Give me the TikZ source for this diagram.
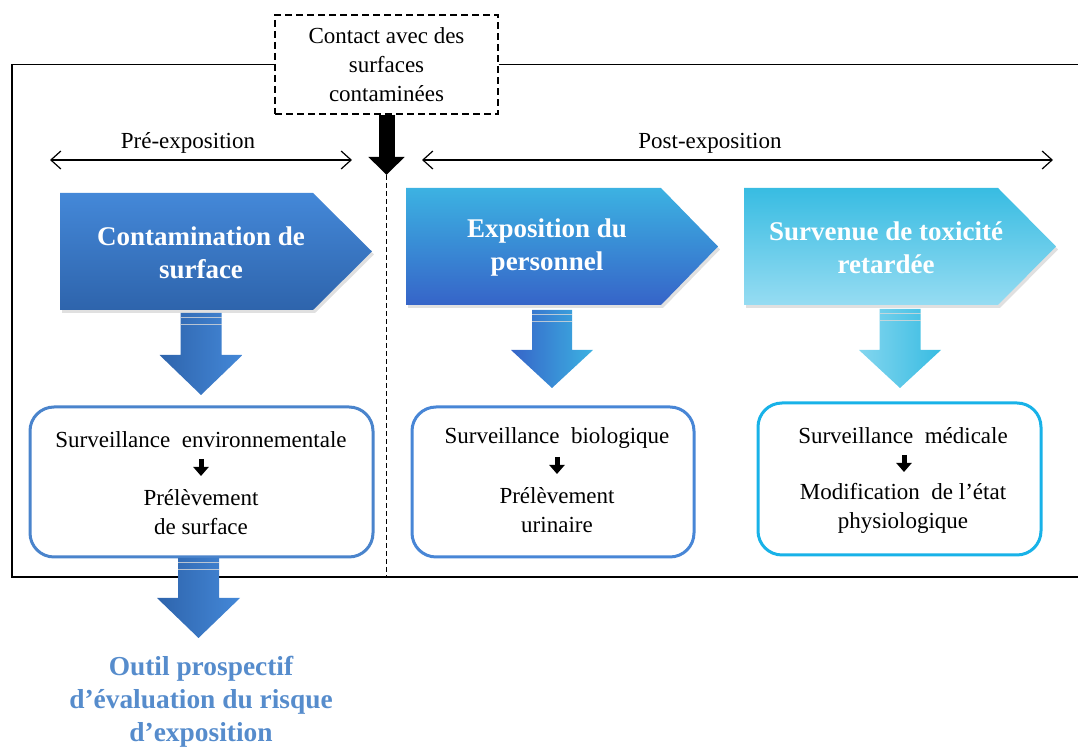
\documentclass[tikz,border=0pt]{standalone}
\usepackage{fontspec}
\setmainfont{Liberation Serif}
\usetikzlibrary{arrows.meta}

\definecolor{chevAtop}{RGB}{68,136,216}
\definecolor{chevAbot}{RGB}{46,100,172}
\definecolor{chevBtop}{RGB}{60,178,226}
\definecolor{chevBmid}{RGB}{70,152,226}
\definecolor{chevBbot}{RGB}{54,100,200}
\definecolor{chevCtop}{RGB}{56,188,226}
\definecolor{chevCbot}{RGB}{150,220,242}
\definecolor{boxA}{RGB}{74,132,204}
\definecolor{boxB}{RGB}{72,134,214}
\definecolor{boxC}{RGB}{24,178,232}
\definecolor{outil}{RGB}{86,140,204}

\tikzset{
  txt/.style={font=\fontsize{11.5}{14.5}\selectfont, align=center, inner sep=0pt},
  chevtxt/.style={text=white, font=\bfseries\fontsize{13.5}{16.5}\selectfont, align=center, inner sep=0pt},
  chevshadow/.style={fill=black, opacity=0.12},
  survbox/.style={draw, line width=1.5pt, rounded corners=12pt, fill=white},
  smallarrow/.style={line width=2.5pt, -{Triangle[width=7.5pt,length=4.5pt]}},
  period/.style={line width=0.6pt, {Straight Barb[length=5pt,width=9pt]}-{Straight Barb[length=5pt,width=9pt]}},
  stripe/.style={white!70!gray, opacity=0.8, line width=0.5pt}
}

\begin{document}
\begin{tikzpicture}[x=0.5pt,y=-0.5pt]
 \useasboundingbox (0,0) rectangle (1078,747);

 % contact box and frame
 \node[draw, dash pattern=on 3.5pt off 2pt, line width=0.6pt, minimum width=111.5pt, minimum height=49.5pt, txt] (contact) at (386.5,64.5) {Contact avec des\\surfaces\\contaminées};
 \draw[line width=0.6pt] (contact.west) -- (12,64.5) -- (12,577) -- (1078,577);
 \draw[line width=0.6pt] (contact.east) -- (1078,64.5);

 % big black arrow and time split
 \coordinate (tip) at (386.5,175);
 \coordinate (split) at (386.5,577);
 \draw[line width=8pt, -{Triangle[width=17.5pt,length=9pt]}] (contact.south) -- (tip);
 \draw[dash pattern=on 2.5pt off 1.5pt, line width=0.6pt] (tip) -- (split);

 % periods
 \coordinate (preL) at (50,160);
 \coordinate (preR) at (352,160);
 \coordinate (postL) at (422,160);
 \coordinate (postR) at (1053,160);
 \draw[period] (preL) -- (preR);
 \draw[period] (postL) -- (postR);
 \node[txt] (pre) at (188,143) {Pré-exposition};
 \node[txt] (post) at (710,143) {Post-exposition};

 % chevrons
 \fill[chevshadow] (62,196) -- (315,196) -- (374,254.5) -- (315,313) -- (62,313) -- cycle;
 \fill[chevshadow] (408,191) -- (663,191) -- (720,249.5) -- (663,308) -- (408,308) -- cycle;
 \fill[chevshadow] (746,191) -- (1000,191) -- (1058,249.5) -- (1000,308) -- (746,308) -- cycle;
 \shade[top color=chevAtop, bottom color=chevAbot] (60,193) -- (313,193) -- (372,251.5) -- (313,310) -- (60,310) -- cycle;
 \shade[top color=chevBtop, middle color=chevBmid, bottom color=chevBbot] (406,188) -- (661,188) -- (718,246.5) -- (661,305) -- (406,305) -- cycle;
 \shade[top color=chevCtop, bottom color=chevCbot] (744,188) -- (998,188) -- (1056,246.5) -- (998,305) -- (744,305) -- cycle;
 \node[chevtxt] (contam) at (201,253) {Contamination de\\surface};
 \node[chevtxt] (expo) at (547,247.5) {Exposition du\\personnel};
 \node[chevtxt] (toxi) at (886,247.5) {Survenue de toxicité\\retardée};

 % block arrows
 \shade[left color=chevAbot, right color=chevAtop] (180.5,313) -- (221.5,313) -- (221.5,355) -- (242.5,355) -- (201,395) -- (159.5,355) -- (180.5,355) -- cycle;
 \shade[left color=chevBbot, right color=chevBtop] (532,310) -- (572,310) -- (572,350) -- (593,350) -- (552,388) -- (511,350) -- (532,350) -- cycle;
 \shade[left color=chevCbot!80!chevCtop, right color=chevCtop] (879.5,309) -- (920.5,309) -- (920.5,350) -- (941,350) -- (900,388) -- (859,350) -- (879.5,350) -- cycle;
 \draw[stripe] (180.5,318) -- (221.5,318);
 \draw[stripe] (180.5,325) -- (221.5,325);
 \draw[stripe] (532,315) -- (572,315);
 \draw[stripe] (532,322) -- (572,322);
 \draw[stripe] (879.5,314) -- (920.5,314);
 \draw[stripe] (879.5,321) -- (920.5,321);

 % surveillance boxes
 \node[survbox, draw=boxA, minimum width=171.5pt, minimum height=75pt] (boxenv) at (201.5,482) {};
 \node[survbox, draw=boxB, minimum width=141pt, minimum height=75pt] (boxbio) at (553,482) {};
 \node[survbox, draw=boxC, minimum width=141.5pt, minimum height=76pt] (boxmed) at (899.5,479) {};

 \node[txt] (env) at (201,440) {Surveillance\ \ environnementale};
 \node[txt] (prelsurf) at (201,512.5) {Prélèvement\\de surface};
 \node[txt] (bio) at (557,438) {Surveillance\ \ biologique};
 \node[txt] (prelur) at (557,510) {Prélèvement\\urinaire};
 \node[txt] (med) at (903,436) {Surveillance\ \ médicale};
 \node[txt] (modif) at (903,508) {Modification\ \ de l’état\\physiologique};

 \coordinate (a1s) at (201,459);
 \coordinate (a1e) at (201,476);
 \coordinate (a2s) at (557,457);
 \coordinate (a2e) at (557,474);
 \coordinate (a3s) at (904,455);
 \coordinate (a3e) at (904,472);
 \draw[smallarrow] (a1s) -- (a1e);
 \draw[smallarrow] (a2s) -- (a2e);
 \draw[smallarrow] (a3s) -- (a3e);

 % outcome
 \shade[left color=chevAbot, right color=chevAtop] (178,558) -- (219,558) -- (219,598) -- (240,598) -- (198.5,638) -- (157,598) -- (178,598) -- cycle;
 \draw[stripe] (178,563) -- (219,563);
 \draw[stripe] (178,570) -- (219,570);
 \node[txt, text=outil, font=\bfseries\fontsize{13.7}{16.5}\selectfont] (tool) at (201,702) {Outil prospectif\\d’évaluation du risque\\d’exposition};
\end{tikzpicture}
\end{document}
